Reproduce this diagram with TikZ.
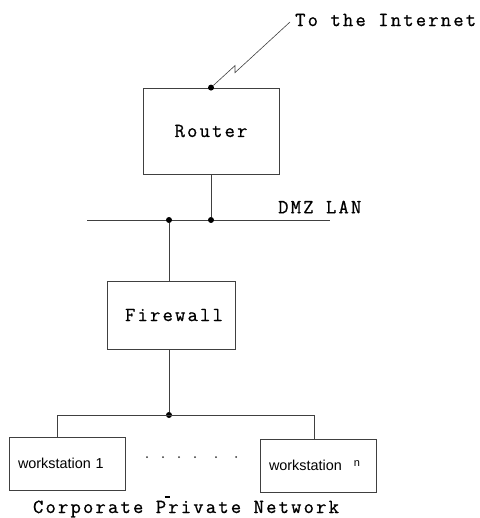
\documentclass[tikz,border=0pt]{standalone}
\usepackage{fontspec}
\newfontfamily\monofnt[LetterSpace=11, FakeBold=0.8]{Latin Modern Mono}
\newfontfamily\sansfnt{Liberation Sans}
\usetikzlibrary{positioning}
\tikzset{
  box/.style={draw=black!75, line width=0.8pt, rectangle, inner sep=0pt},
  wsbox/.style={box, minimum width=116pt, minimum height=53pt, text width=98pt,
    align=left, font=\sansfnt\fontsize{14.4}{16}\selectfont},
  link/.style={draw=black!75, line width=0.8pt},
  junction/.style={circle, fill=black, inner sep=0pt, minimum size=6pt},
  lbl/.style={font=\monofnt\fontsize{20}{24}\selectfont, inner sep=0pt}
}
\begin{document}
\begin{tikzpicture}[x=1pt, y=-1pt]
\useasboundingbox (0,0) rectangle (479,518);

% router and the link to the internet
\node[box, lbl, minimum width=136pt, minimum height=86pt] (router) at (211,131) {Router};
\node[junction] (rtop) at (router.north) {};
\coordinate (inet) at (290,22);
\node[lbl, anchor=west] (inetlbl) at (295,20) {To the Internet};
\draw[link, line width=0.6pt] (rtop) -- ++(24,-22) -- ++(0,7) -- (inet);

% DMZ LAN
\coordinate (dmzL) at (87,220);
\coordinate (dmzR) at (330,220);
\draw[link] (dmzL) -- (dmzR);
\node[junction] (jr) at (211,220) {};
\node[junction] (jf) at (169,220) {};
\node[lbl, anchor=west] (dmzlbl) at (278,207) {DMZ LAN};
\draw[link] (router.south) -- (jr);

% firewall
\node[box, lbl, minimum width=128pt, minimum height=68pt] (firewall) at (171,315) {\hspace{6pt}Firewall};
\draw[link] (jf) -- (jf |- firewall.north);
\node[junction] (jl) at (169,415) {};
\draw[link] (jl |- firewall.south) -- (jl);

% private network
\node[wsbox] (ws1) at (67,463.5) {\raisebox{-4pt}{workstation 1}};
\node[wsbox] (wsn) at (318,465.5) {\raisebox{-4pt}{workstation}\hspace{12pt}\raisebox{0pt}{\fontsize{11}{12}\selectfont n}};
\coordinate (lanL) at (57,415);
\coordinate (lanR) at (314,415);
\draw[link] (lanL |- ws1.north) -- (lanL) -- (lanR) -- (lanR |- wsn.north);
\foreach \xd in {147,163,179,195,216,236}
  \fill[black!80] (\xd,457) circle (1pt);
\draw[black, line width=1.6pt] (164.5,497) -- (169.5,497);
\node[lbl] (cpnlbl) at (186,509) {Corporate Private Network};
\end{tikzpicture}
\end{document}
